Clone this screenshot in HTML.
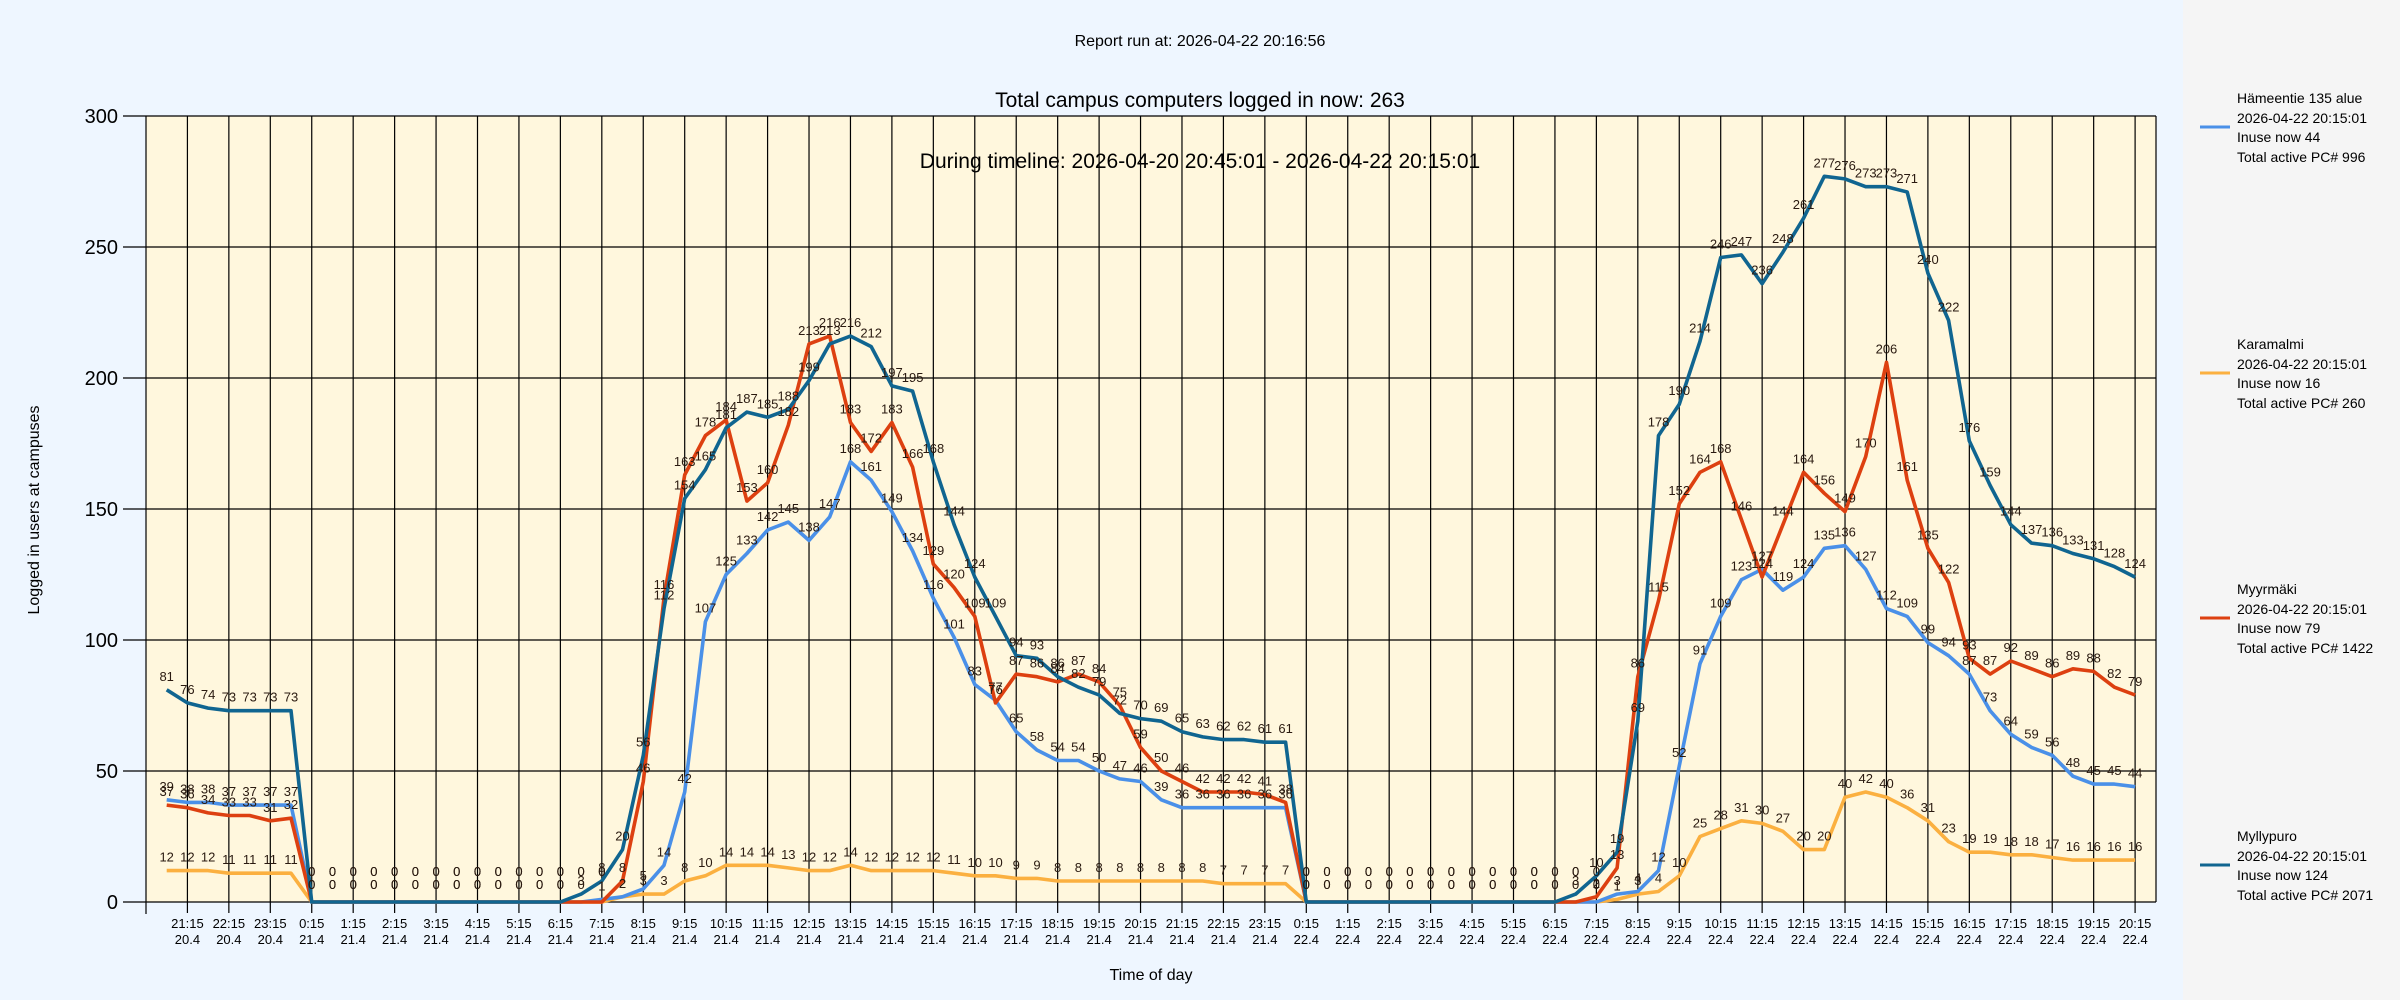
<!DOCTYPE html>
<html><head><meta charset="utf-8"><style>
html,body{margin:0;padding:0;background:#eef6ff;}
svg{display:block;font-family:"Liberation Sans","DejaVu Sans",sans-serif;}
</style></head><body>
<svg id="s" width="2400" height="1000" xmlns="http://www.w3.org/2000/svg">
<rect x="0" y="0" width="2400" height="1000" fill="#eef6ff"/>
<rect x="2183" y="0" width="217" height="1000" fill="#f5f5f5"/>
<rect x="146" y="116" width="2010" height="786" fill="#fff7dd"/>
<g id="grid"></g>
<text x="1200" y="46" font-size="16" text-anchor="middle" fill="#000">Report run at:  2026-04-22 20:16:56</text>
<text x="1200" y="107" font-size="21" text-anchor="middle" fill="#000">Total campus computers logged in now: 263</text>
<text x="1200" y="168" font-size="21" text-anchor="middle" fill="#000">During timeline: 2026-04-20 20:45:01 - 2026-04-22 20:15:01</text>
<text x="1151" y="980" font-size="16" text-anchor="middle" fill="#000">Time of day</text>
<text transform="translate(39,510) rotate(-90)" font-size="16" text-anchor="middle" fill="#000">Logged in users at campuses</text>
<g id="series"></g>
<g font-size="14" fill="#000">
<line x1="2200" y1="127" x2="2230" y2="127" stroke="#4a90e8" stroke-width="3"/>
<text x="2237" y="103">Hämeentie 135 alue</text><text x="2237" y="123">2026-04-22 20:15:01</text><text x="2237" y="142">Inuse now 44</text><text x="2237" y="162">Total active PC# 996</text>
<line x1="2200" y1="373" x2="2230" y2="373" stroke="#fbb040" stroke-width="3"/>
<text x="2237" y="349">Karamalmi</text><text x="2237" y="369">2026-04-22 20:15:01</text><text x="2237" y="388">Inuse now 16</text><text x="2237" y="408">Total active PC# 260</text>
<line x1="2200" y1="618" x2="2230" y2="618" stroke="#dd4010" stroke-width="3"/>
<text x="2237" y="594">Myyrmäki</text><text x="2237" y="614">2026-04-22 20:15:01</text><text x="2237" y="633">Inuse now 79</text><text x="2237" y="653">Total active PC# 1422</text>
<line x1="2200" y1="865" x2="2230" y2="865" stroke="#106590" stroke-width="3"/>
<text x="2237" y="841">Myllypuro</text><text x="2237" y="861">2026-04-22 20:15:01</text><text x="2237" y="880">Inuse now 124</text><text x="2237" y="900">Total active PC# 2071</text>
</g>
</svg>
<script>
var NS="http://www.w3.org/2000/svg";
function el(p,t,a,txt){var e=document.createElementNS(NS,t);for(var k in a)e.setAttribute(k,a[k]);if(txt!==undefined)e.textContent=txt;p.appendChild(e);return e;}
var g=document.getElementById('grid');
var X0=166.7,DX=20.72,Y0=902,SY=786/300;
function px(i){return X0+DX*i;}function py(v){return Y0-v*SY;}
for(var v=0;v<=300;v+=50){var y=py(v);el(g,'line',{x1:123,y1:y,x2:2156,y2:y,stroke:'#000','stroke-width':1.2});
el(g,'text',{x:118,y:y+7,'font-size':20,'text-anchor':'end',fill:'#000'},String(v));}
el(g,'line',{x1:146,y1:116,x2:146,y2:914,stroke:'#000','stroke-width':1.2});
el(g,'line',{x1:2156,y1:116,x2:2156,y2:902,stroke:'#000','stroke-width':1.2});
var hrs=[];for(var k=0;k<48;k++){var h=(21+k)%24;var d=k<3?'20.4':(k<27?'21.4':'22.4');hrs.push([h+':15',d]);}
for(var k=0;k<48;k++){var x=px(1+2*k);el(g,'line',{x1:x,y1:116,x2:x,y2:913,stroke:'#000','stroke-width':1.2});
el(g,'text',{x:x,y:928,'font-size':13,'text-anchor':'middle',fill:'#000'},hrs[k][0]);
el(g,'text',{x:x,y:944,'font-size':13,'text-anchor':'middle',fill:'#000'},hrs[k][1]);}
function z(n){var a=[];for(var i=0;i<n;i++)a.push(0);return a;}
var dark=[81,76,74,73,73,73,73].concat(z(13),[3,8,20,56,112,154,165,181,187,185,188,199,213,216,212,197,195,168,144,124,109,94,93,86,82,79,72,70,69,65,63,62,62,61,61],z(13),[3,10,19,69,178,190,214,246,247,236,248,261,277,276,273,273,271,240,222,176,159,144,137,136,133,131,128,124]);
var red=[37,36,34,33,33,31,32].concat(z(15),[8,46,116,163,178,184,153,160,182,213,216,183,172,183,166,129,120,109,76,87,86,84,87,84,75,59,50,46,42,42,42,41,38],z(14),[2,13,86,115,152,164,168,146,124,144,164,156,149,170,206,161,135,122,93,87,92,89,86,89,88,82,79]);
var blue=[39,38,38,37,37,37,37].concat(z(14),[1,2,5,14,42,107,125,133,142,145,138,147,168,161,149,134,116,101,83,77,65,58,54,54,50,47,46,39,36,36,36,36,36,36],z(15),[3,4,12,52,91,109,123,127,119,124,135,136,127,112,109,99,94,87,73,64,59,56,48,45,45,44]);
var kar=[12,12,12,11,11,11,11].concat(z(15),[2,3,3,8,10,14,14,14,13,12,12,14,12,12,12,12,11,10,10,9,9,8,8,8,8,8,8,8,8,7,7,7,7],z(15),[1,3,4,10,25,28,31,30,27,20,20,40,42,40,36,31,23,19,19,18,18,17,16,16,16,16]);
var S=[[kar,'#fbb040',0],[blue,'#4a90e8',1],[red,'#dd4010',2],[dark,'#106590',3]];
var sg=document.getElementById('series');
S.forEach(function(s){var d=s[0],pts=[];for(var i=0;i<d.length&&i<96;i++)pts.push(px(i).toFixed(1)+','+py(d[i]).toFixed(1));
el(sg,'polyline',{points:pts.join(' '),fill:'none',stroke:s[1],'stroke-width':3.6,'stroke-linejoin':'round'});});
S.forEach(function(s){var d=s[0];for(var i=0;i<d.length&&i<96;i++){var v=d[i];var y;
if(v===0){y=(s[2]%2===0)?876:889;}else y=py(v)-9;
el(sg,'text',{x:px(i),y:y,'font-size':13,'text-anchor':'middle',fill:'#2a1a10'},String(v));}});
</script>
</body></html>
